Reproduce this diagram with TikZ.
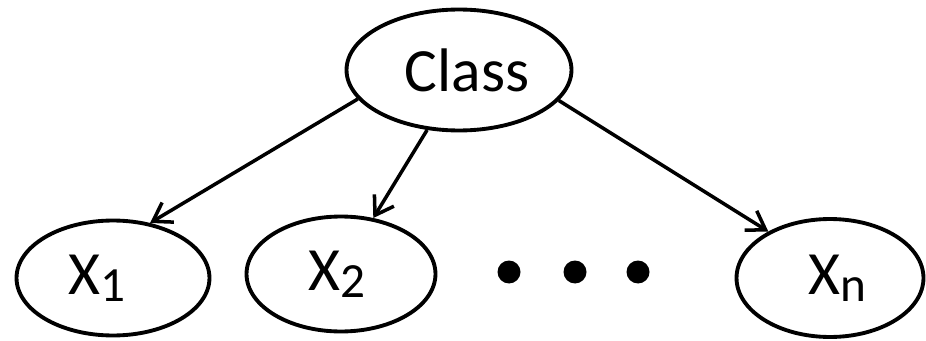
\documentclass[tikz,border=0pt]{standalone}
\usepackage{fontspec}
\setmainfont{Carlito}
\usetikzlibrary{arrows.meta,shapes.geometric}

% variable name with a lowered subscript
\newcommand{\xvar}[1]{X\raisebox{-4pt}{\fontsize{28}{28}\selectfont #1}}

\begin{document}
\begin{tikzpicture}[x=0.02cm,y=-0.02cm,>={Straight Barb[length=10pt,width=13pt]},
    var/.style={ellipse,draw,line width=2.2pt,inner sep=0pt},
    lbl/.style={font=\fontsize{35}{40}\selectfont},
    dot/.style={circle,fill,inner sep=0pt,minimum size=0.46cm},
    edge/.style={->,line width=2pt}]

    \useasboundingbox (0,0) rectangle (926,341);

    % class node
    \node[var,minimum width=4.5cm,minimum height=2.42cm,
        label={[lbl,xshift=0.16cm]center:Class}] (cls) at (459,70) {};

    % feature nodes
    \node[var,minimum width=3.86cm,minimum height=2.3cm,
        label={[lbl,xshift=-0.32cm]center:\xvar{1}}] (x1) at (113,278) {};
    \node[var,minimum width=3.78cm,minimum height=2.3cm,
        label={[lbl,xshift=-0.08cm]center:\xvar{2}}] (x2) at (341,274) {};
    \node[var,minimum width=3.74cm,minimum height=2.36cm,
        label={[lbl,xshift=0.14cm]center:\xvar{n}}] (xn) at (830,278) {};

    % ellipsis
    \foreach \i/\x in {1/509,2/575,3/638}
        \node[dot] (d\i) at (\x,272) {};

    % arrows
    \draw[edge] (cls.196) -- (x1.56);
    \draw[edge] (cls.242) -- (x2.60);
    \draw[edge] (cls.343) -- (xn.143);

\end{tikzpicture}
\end{document}
